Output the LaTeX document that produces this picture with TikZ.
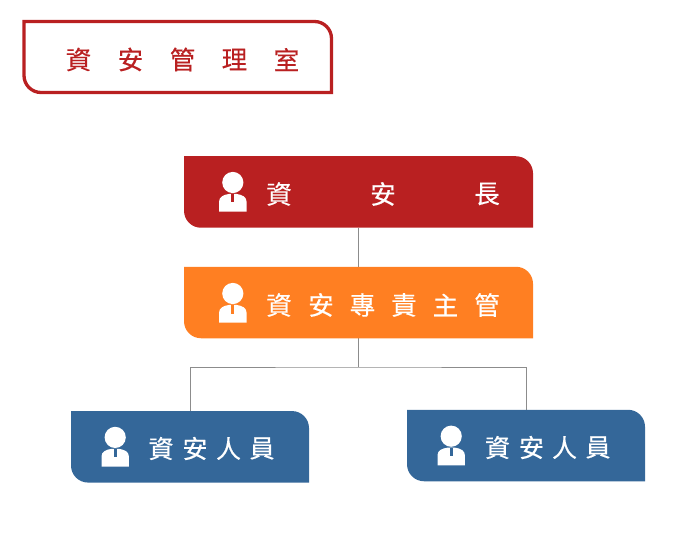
\documentclass[tikz,border=0pt]{standalone}
\usepackage{fontspec}
\newfontfamily\cjk[FakeBold=0.35]{Noto Sans CJK TC}
\definecolor{cred}{HTML}{B92021}
\definecolor{corange}{HTML}{FF7F22}
\definecolor{cblue}{HTML}{346799}
\definecolor{cline}{HTML}{8C8C8C}
\tikzset{
  x=1pt,y=-1pt,
  anchorbox/.style={inner sep=0pt,outer sep=0pt,minimum width=#1,minimum height=71.5pt},
  label/.style={inner sep=0pt,font=\cjk\fontsize{25.5}{26}\selectfont,text=white},
  titlelabel/.style={inner sep=0pt,font=\cjk\fontsize{25.5}{26}\selectfont,text=cred},
  smalllabel/.style={inner sep=0pt,font=\cjk\fontsize{25}{26}\selectfont,text=white},
  link/.style={draw=cline,line width=0.9pt},
}
% tagged box: square top-left and bottom-right, rounded top-right and bottom-left
\newcommand{\tagshape}[1]{%
  (#1.north west) -- ([xshift=-17pt]#1.north east) arc[start angle=90,end angle=0,radius=17pt]
  -- (#1.south east) -- ([xshift=17pt]#1.south west) arc[start angle=270,end angle=180,radius=17pt] -- cycle}
\newcommand{\personicon}[3]{% x, y of head centre, fill colour
  \fill[white] (#1,#2) circle[radius=10.6pt];
  \fill[white] (#1-13.7,#2+29.2) -- (#1-13.7,#2+19)
     .. controls (#1-13.7,#2+14.5) and (#1-9.5,#2+12.2) .. (#1-3.5,#2+11.4)
     -- (#1+3.5,#2+11.4)
     .. controls (#1+9.5,#2+12.2) and (#1+13.7,#2+14.5) .. (#1+13.7,#2+19)
     -- (#1+13.7,#2+29.2) -- cycle;
  \fill[#3] (#1-1.35,#2+11.4) rectangle (#1+1.35,#2+20);
}
\begin{document}
\begin{tikzpicture}
\useasboundingbox (0,0) rectangle (700,534);
% boxes
\node[anchorbox=307.5pt,minimum height=71pt] (room) at (177.75,57) {};
\node[anchorbox=349pt] (ciso) at (358.5,192) {};
\node[anchorbox=349pt] (chief) at (358.5,302.5) {};
\node[anchorbox=238pt] (staffa) at (190,446.8) {};
\node[anchorbox=238pt] (staffb) at (526,445.5) {};
\coordinate (split) at (chief.south |- 0,367);
% connectors
\draw[link] (ciso.south) -- (chief.north);
\draw[link] (chief.south) -- (split);
\draw[link] (staffa.north) |- (split) -| (staffb.north);
% shapes
\draw[cred,line width=3.3pt] \tagshape{room};
\fill[cred] \tagshape{ciso};
\fill[corange] \tagshape{chief};
\fill[cblue] \tagshape{staffa};
\fill[cblue] \tagshape{staffb};
% icons
\personicon{232.8}{182.5}{cred}
\personicon{232.8}{293.5}{corange}
\personicon{115.2}{437.4}{cblue}
\personicon{451.2}{436.2}{cblue}
% title
\node[titlelabel] (t1) at (78.5,59.5) {資};
\node[titlelabel] (t2) at (130.5,59.5) {安};
\node[titlelabel] (t3) at (182.5,59.5) {管};
\node[titlelabel] (t4) at (234.5,59.5) {理};
\node[titlelabel] (t5) at (286.5,59.5) {室};
% ciso
\node[label] (a1) at (279,194) {資};
\node[label] (a2) at (383,194) {安};
\node[label] (a3) at (487,194) {長};
% chief
\node[label] (b1) at (279,305) {資};
\node[label] (b2) at (321,305) {安};
\node[label] (b3) at (362.5,305) {專};
\node[label] (b4) at (404,305) {責};
\node[label] (b5) at (445.5,305) {主};
\node[label] (b6) at (487,305) {管};
% staff left
\node[smalllabel] (c1) at (161,448.5) {資};
\node[smalllabel] (c2) at (195,448.5) {安};
\node[smalllabel] (c3) at (228.5,448.5) {人};
\node[smalllabel] (c4) at (262,448.5) {員};
% staff right
\node[smalllabel] (d1) at (497.5,447.5) {資};
\node[smalllabel] (d2) at (531.5,447.5) {安};
\node[smalllabel] (d3) at (564.5,447.5) {人};
\node[smalllabel] (d4) at (598,447.5) {員};
\end{tikzpicture}
\end{document}
